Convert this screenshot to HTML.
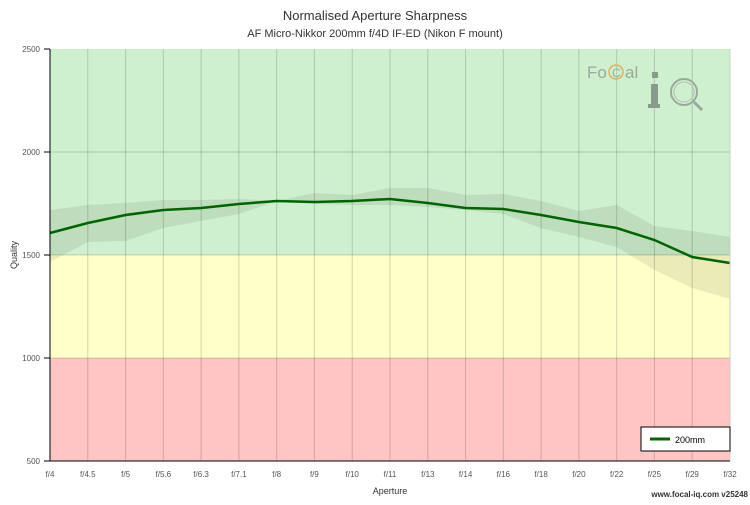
<!DOCTYPE html><html><head><style>body{margin:0;background:#fff}svg{font-family:"Liberation Sans",sans-serif}</style></head><body>
<svg width="750" height="500" xmlns="http://www.w3.org/2000/svg">
<text x="375" y="20" font-size="13" text-anchor="middle" fill="#333">Normalised Aperture Sharpness</text>
<text x="375" y="37" font-size="11" text-anchor="middle" fill="#333">AF Micro-Nikkor 200mm f/4D IF-ED (Nikon F mount)</text>
<rect x="50" y="49" width="680" height="206" fill="#cef0ce"/>
<rect x="50" y="255" width="680" height="103" fill="#ffffc8"/>
<rect x="50" y="358" width="680" height="103" fill="#ffc4c4"/>
<g stroke="#000" stroke-opacity="0.17">
<line x1="87.8" y1="49" x2="87.8" y2="461"/><line x1="125.6" y1="49" x2="125.6" y2="461"/><line x1="163.3" y1="49" x2="163.3" y2="461"/><line x1="201.1" y1="49" x2="201.1" y2="461"/><line x1="238.9" y1="49" x2="238.9" y2="461"/><line x1="276.7" y1="49" x2="276.7" y2="461"/><line x1="314.4" y1="49" x2="314.4" y2="461"/><line x1="352.2" y1="49" x2="352.2" y2="461"/><line x1="390" y1="49" x2="390" y2="461"/><line x1="427.8" y1="49" x2="427.8" y2="461"/><line x1="465.6" y1="49" x2="465.6" y2="461"/><line x1="503.3" y1="49" x2="503.3" y2="461"/><line x1="541.1" y1="49" x2="541.1" y2="461"/><line x1="578.9" y1="49" x2="578.9" y2="461"/><line x1="616.7" y1="49" x2="616.7" y2="461"/><line x1="654.4" y1="49" x2="654.4" y2="461"/><line x1="692.2" y1="49" x2="692.2" y2="461"/>
<line x1="50" y1="152" x2="730" y2="152"/><line x1="50" y1="255" x2="730" y2="255"/><line x1="50" y1="358" x2="730" y2="358"/>
</g>
<text x="587" y="78" font-size="17" fill="#9aaa9a">Fo</text><circle cx="616" cy="72" r="7" fill="none" stroke="#e0b060" stroke-width="1.5"/><text x="612" y="77" font-size="12" fill="#9aaa9a">C</text><text x="625" y="78" font-size="17" fill="#9aaa9a">al</text>
<rect x="651" y="84" width="7" height="24" fill="#8a9a8a"/><rect x="648" y="104" width="12" height="4" fill="#8a9a8a"/><rect x="652" y="72" width="6" height="6" fill="#8a9a8a"/>
<circle cx="684" cy="92" r="13" fill="none" stroke="#9aaa9a" stroke-width="2"/><circle cx="684" cy="92" r="10" fill="none" stroke="#b0c0b0" stroke-width="1"/><line x1="694" y1="102" x2="702" y2="110" stroke="#9aaa9a" stroke-width="3"/>
<polygon fill="#000" fill-opacity="0.08" points="50,210 87.8,205 125.6,203 163.3,200 201.1,200 238.9,199 276.7,201 314.4,193 352.2,195 390,188 427.8,188 465.6,195 503.3,194 541.1,201 578.9,211 616.7,205 654.4,226 692.2,231 730,237 730,299 692.2,288 654.4,270 616.7,247 578.9,237 541.1,228 503.3,214 465.6,210 427.8,207 390,205 352.2,205 314.4,204 276.7,201 238.9,214 201.1,221 163.3,228 125.6,241 87.8,242 50,262"/>
<polyline fill="none" stroke="#006400" stroke-width="2.5" points="50,233 87.8,223 125.6,215 163.3,210 201.1,208 238.9,204 276.7,201 314.4,202 352.2,201 390,199 427.8,203 465.6,208 503.3,209 541.1,215 578.9,222 616.7,228 654.4,240 692.2,257 730,263"/>
<line x1="50" y1="49" x2="50" y2="461" stroke="#000"/><line x1="730" y1="49" x2="730" y2="461" stroke="#ccc"/><line x1="50" y1="461" x2="730" y2="461" stroke="#000"/>
<g font-size="8" fill="#555" text-anchor="end"><text x="40" y="52">2500</text><text x="40" y="155">2000</text><text x="40" y="258">1500</text><text x="40" y="361">1000</text><text x="40" y="464">500</text></g>
<g stroke="#000"><line x1="44" y1="49" x2="50" y2="49"/><line x1="44" y1="152" x2="50" y2="152"/><line x1="44" y1="255" x2="50" y2="255"/><line x1="44" y1="358" x2="50" y2="358"/><line x1="44" y1="461" x2="50" y2="461"/></g>
<g font-size="8" fill="#555" text-anchor="middle"><text x="50" y="477">f/4</text><text x="87.8" y="477">f/4.5</text><text x="125.6" y="477">f/5</text><text x="163.3" y="477">f/5.6</text><text x="201.1" y="477">f/6.3</text><text x="238.9" y="477">f/7.1</text><text x="276.7" y="477">f/8</text><text x="314.4" y="477">f/9</text><text x="352.2" y="477">f/10</text><text x="390" y="477">f/11</text><text x="427.8" y="477">f/13</text><text x="465.6" y="477">f/14</text><text x="503.3" y="477">f/16</text><text x="541.1" y="477">f/18</text><text x="578.9" y="477">f/20</text><text x="616.7" y="477">f/22</text><text x="654.4" y="477">f/25</text><text x="692.2" y="477">f/29</text><text x="730" y="477">f/32</text></g>
<text x="390" y="494" font-size="9" text-anchor="middle" fill="#333">Aperture</text>
<text transform="translate(17,255) rotate(-90)" font-size="9" text-anchor="middle" fill="#333">Quality</text>
<rect x="641" y="427" width="89" height="24" fill="#fff" stroke="#000"/>
<line x1="650" y1="439" x2="670" y2="439" stroke="#006400" stroke-width="3"/><text x="675" y="443" font-size="9" fill="#000">200mm</text>
<text x="748" y="497" font-size="8" font-weight="bold" text-anchor="end" fill="#333">www.focal-iq.com  v25248</text>
</svg></body></html>
